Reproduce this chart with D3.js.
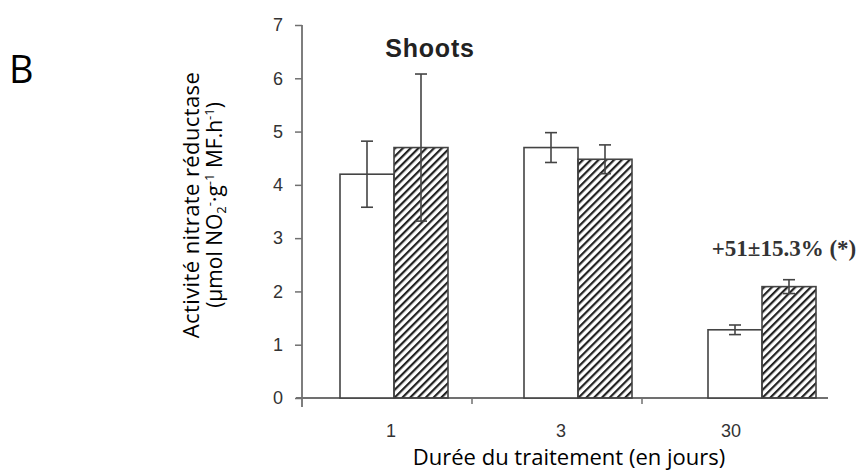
<!DOCTYPE html>
<html>
<head>
<meta charset="utf-8">
<script src="https://cdn.jsdelivr.net/npm/d3@7"></script>
<style>
  body { margin: 0; background: #fff; }
</style>
</head>
<body>
<div id="chart"></div>
<script>
// data
const days = ["1", "3", "30"]
const series = ["control", "treated"]
const controlMean = [4.2, 4.7, 1.28]
const controlErr = [0.62, 0.28, 0.09]
const treatedMean = [4.7, 4.48, 2.09]
const treatedErr = [1.38, 0.27, 0.13]
const yTicks = [0, 1, 2, 3, 4, 5, 6, 7]

const W = 866, H = 473

const svg = d3.select("#chart").append("svg")
    .attr("width", W)
    .attr("height", H)

// hatch pattern for treated bars
const defs = svg.append("defs")
defs.append("pattern")
    .attr("id", "hatch")
    .attr("patternUnits", "userSpaceOnUse")
    .attr("width", 5.5)
    .attr("height", 5.5)
    .attr("patternTransform", "rotate(45)")
  .append("rect")
    .attr("x", 0).attr("y", 0)
    .attr("width", 2.2).attr("height", 5.5)
    .attr("fill", "#222")

const y = d3.scaleLinear()
    .domain([0, 7])
    .range([398, 25])

// x scale for labels / ticks
const xAxisScale = d3.scaleBand()
    .domain(days)
    .range([302, 812])

// group centres of the bars (bars sit a little right of the labels)
const xGroup = d3.scalePoint()
    .domain(days)
    .range([394, 762])

const xSub = d3.scaleBand()
    .domain(series)
    .range([-54, 54])

const rows = days.map((d, i) => ({
    day: d,
    vals: [
        { s: "control", v: controlMean[i], e: controlErr[i] },
        { s: "treated", v: treatedMean[i], e: treatedErr[i] }
    ]
}))

const axisColor = "#707070"
const sans = "Liberation Sans, Arial, sans-serif"
const body = "Open Sans, Noto Sans, sans-serif"

// y axis
const yAxis = svg.append("g")
    .attr("transform", "translate(302,0)")
    .call(d3.axisLeft(y).tickValues(yTicks).tickFormat(d3.format("d")).tickSize(7).tickPadding(12))
yAxis.select(".domain").remove()
yAxis.append("line")
    .attr("x1", 0).attr("x2", 0)
    .attr("y1", y(7)).attr("y2", y(0) + 9)
    .attr("stroke", axisColor).attr("stroke-width", 1.8)
yAxis.selectAll(".tick line").attr("stroke", axisColor).attr("stroke-width", 1.5)
yAxis.selectAll(".tick text")
    .attr("font-family", sans)
    .attr("font-size", 18)
    .attr("fill", "#333")

// x axis line
svg.append("line")
    .attr("x1", 296).attr("x2", 828)
    .attr("y1", y(0)).attr("y2", y(0))
    .attr("stroke", axisColor).attr("stroke-width", 1.8)

// small ticks between groups
svg.append("g").selectAll("line")
    .data(days.slice(1))
    .join("line")
    .attr("x1", d => xAxisScale(d))
    .attr("x2", d => xAxisScale(d))
    .attr("y1", y(0))
    .attr("y2", y(0) + 6)
    .attr("stroke", axisColor).attr("stroke-width", 1.5)

svg.append("g").selectAll("text")
    .data(days)
    .join("text")
    .attr("x", d => xAxisScale(d) + xAxisScale.bandwidth() / 2 + 4)
    .attr("y", 437)
    .attr("text-anchor", "middle")
    .attr("font-family", sans)
    .attr("font-size", 18)
    .attr("fill", "#333")
    .text(d => d)

// bars
const groups = svg.append("g").selectAll("g")
    .data(rows)
    .join("g")
    .attr("transform", d => `translate(${xGroup(d.day)},0)`)

groups.selectAll("rect")
    .data(d => d.vals)
    .join("rect")
    .attr("x", d => xSub(d.s))
    .attr("y", d => y(d.v))
    .attr("width", xSub.bandwidth())
    .attr("height", d => y(0) - y(d.v))
    .attr("fill", d => d.s == "control" ? "#fff" : "url(#hatch)")
    .attr("stroke", "#444")
    .attr("stroke-width", 1.6)

// error bars
const eb = groups.selectAll("g.err")
    .data(d => d.vals)
    .join("g")
    .attr("class", "err")
    .attr("stroke", "#444")
    .attr("stroke-width", 1.6)

const cx = d => xSub(d.s) + xSub.bandwidth() / 2
eb.append("line")
    .attr("x1", cx).attr("x2", cx)
    .attr("y1", d => y(d.v + d.e))
    .attr("y2", d => y(d.v - d.e))
eb.append("line")
    .attr("x1", d => cx(d) - 6).attr("x2", d => cx(d) + 6)
    .attr("y1", d => y(d.v + d.e))
    .attr("y2", d => y(d.v + d.e))
eb.append("line")
    .attr("x1", d => cx(d) - 6).attr("x2", d => cx(d) + 6)
    .attr("y1", d => y(d.v - d.e))
    .attr("y2", d => y(d.v - d.e))

// panel title
svg.append("text")
    .attr("x", 430).attr("y", 57)
    .attr("text-anchor", "middle")
    .attr("font-family", sans)
    .attr("font-weight", "bold")
    .attr("font-size", 25)
    .attr("letter-spacing", 0.8)
    .attr("fill", "#222")
    .text("Shoots")

// significance annotation
svg.append("text")
    .attr("x", 784).attr("y", 256)
    .attr("text-anchor", "middle")
    .attr("font-family", "Liberation Serif, Times New Roman, serif")
    .attr("font-weight", "bold")
    .attr("font-size", 23)
    .attr("fill", "#333")
    .text("+51±15.3% (*)")

// panel letter
svg.append("text")
    .attr("x", 9).attr("y", 83)
    .attr("font-family", body)
    .attr("font-size", 38)
    .attr("fill", "#000")
    .text("B")

// y label, two lines
svg.append("text")
    .attr("transform", "translate(199,205) rotate(-90)")
    .attr("text-anchor", "middle")
    .attr("font-family", body)
    .attr("font-size", 22)
    .attr("letter-spacing", 0.4)
    .attr("fill", "#000")
    .text("Activité nitrate réductase")

const yl2 = svg.append("text")
    .attr("transform", "translate(222,205) rotate(-90)")
    .attr("text-anchor", "middle")
    .attr("font-family", body)
    .attr("font-size", 21)
    .attr("fill", "#000")
yl2.append("tspan").text("(µmol NO")
yl2.append("tspan").attr("font-size", 13).attr("dy", 4).text("2")
yl2.append("tspan").attr("font-size", 13).attr("dy", -12).text("-")
yl2.append("tspan").attr("dy", 8).text("·g")
yl2.append("tspan").attr("font-size", 13).attr("dy", -8).text("-1")
yl2.append("tspan").attr("dy", 8).text(" MF.h")
yl2.append("tspan").attr("font-size", 13).attr("dy", -8).text("-1")
yl2.append("tspan").attr("dy", 8).text(")")

// x label
svg.append("text")
    .attr("x", 569).attr("y", 465)
    .attr("text-anchor", "middle")
    .attr("font-family", body)
    .attr("font-size", 22)
    .attr("fill", "#000")
    .text("Durée du traitement (en jours)")
</script>
</body>
</html>
